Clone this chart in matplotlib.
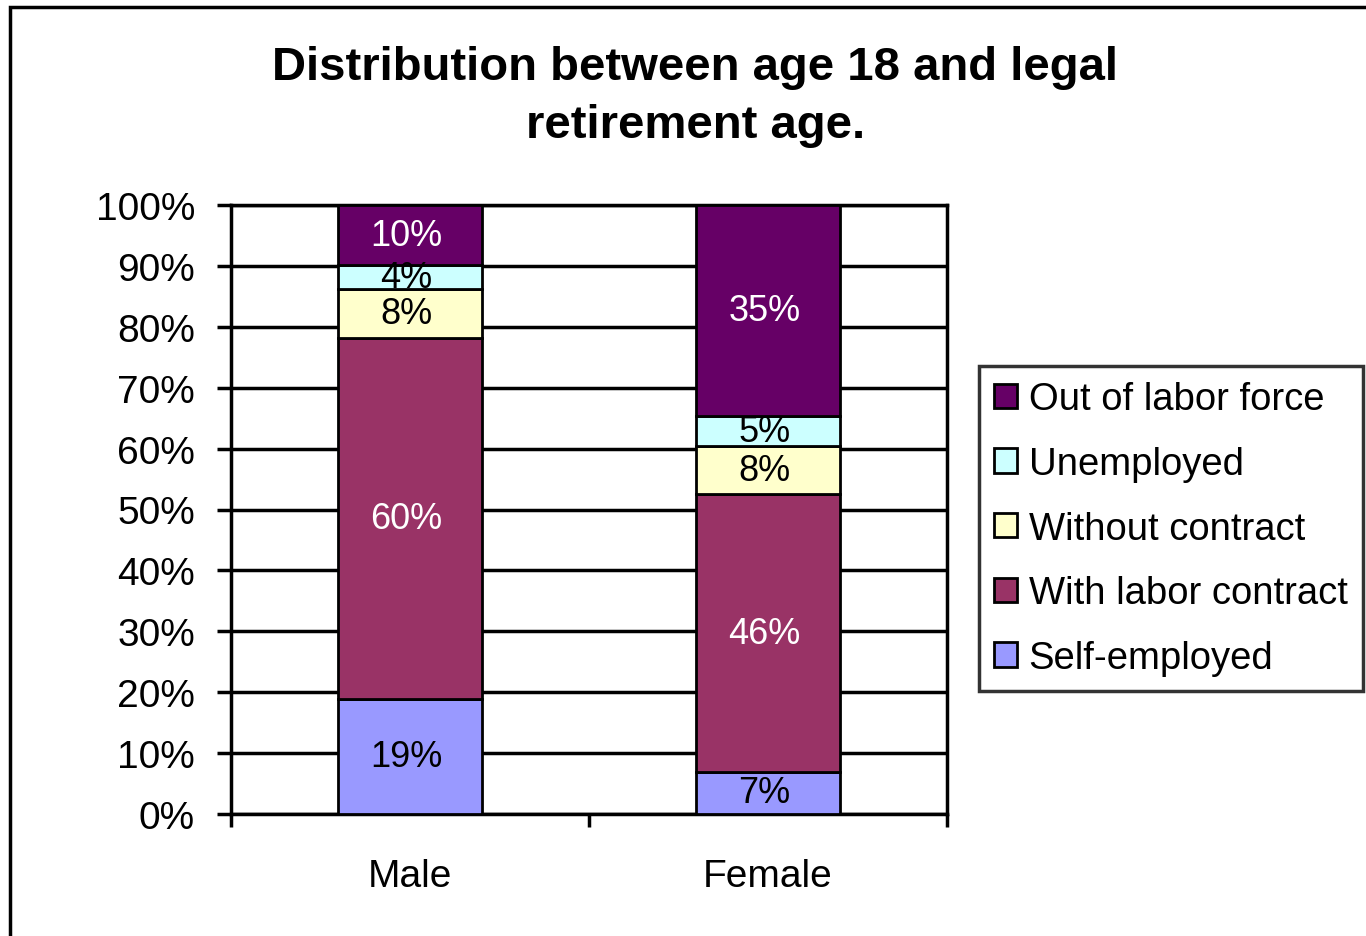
import matplotlib
matplotlib.use("Agg")
import matplotlib.pyplot as plt
import numpy as np
from matplotlib.patches import Rectangle, Patch

plt.rcParams['font.family'] = ['Liberation Sans', 'DejaVu Sans']

categories = ["Male", "Female"]
series_names = ["Self-employed", "With labor contract", "Without contract",
                "Unemployed", "Out of labor force"]
self_employed = [19, 7]
with_contract = [60, 46]
without_contract = [8, 8]
unemployed = [4, 5]
out_of_labor = [10, 35]
colors = ["#9999FF", "#993366", "#FFFFCC", "#CCFFFF", "#660066"]
label_colors = ["black", "white", "black", "black", "white"]
yticklabels = ["0%", "10%", "20%", "30%", "40%", "50%", "60%", "70%", "80%", "90%", "100%"]

series = [self_employed, with_contract, without_contract, unemployed, out_of_labor]
data = np.array(series, dtype=float)
totals = data.sum(axis=0)
pct = data / totals * 100

fig = plt.figure(figsize=(13.66, 9.37), dpi=100)
ax = fig.add_axes([231/1366, 1-815/937, (947-231)/1366, (815-206)/937])

x = np.array([0.5, 1.5])
bottom = np.zeros(2)
handles = []
for i, name in enumerate(series_names):
    bars = ax.bar(x, pct[i], width=0.4, bottom=bottom, color=colors[i],
                  edgecolor="black", linewidth=2, zorder=3)
    for j, b in enumerate(bars):
        ax.text(x[j] - 0.01, bottom[j] + pct[i][j] / 2, f"{int(data[i][j])}%",
                ha="center", va="center", fontsize=26, color=label_colors[i], zorder=4)
    bottom += pct[i]
    handles.append(Patch(facecolor=colors[i], edgecolor="black", linewidth=2, label=name))

ax.set_xlim(0, 2)
ax.set_ylim(0, 100)
ax.set_yticks(np.arange(0, 101, 10))
ax.set_yticklabels(yticklabels, fontsize=28)
ax.set_xticks([0, 1, 2])
ax.set_xticklabels([])
ax.set_xticks(x, minor=True)
ax.set_xticklabels(categories, minor=True, fontsize=28)
ax.tick_params(axis="x", which="minor", length=0, pad=32)
ax.tick_params(axis="x", which="major", length=9, width=2.5, direction="out")
ax.tick_params(axis="y", length=10, width=2.5, pad=16)
ax.yaxis.grid(True, color="black", linewidth=2.5, zorder=0)
ax.set_axisbelow(True)
for s in ax.spines.values():
    s.set_linewidth(2.5)
    s.set_color("black")

fig.text(0.509, 1-68/937, "Distribution between age 18 and legal", ha="center", va="center",
         fontsize=34, fontweight="bold")
fig.text(0.509, 1-126/937, "retirement age.", ha="center", va="center",
         fontsize=34, fontweight="bold")

leg = fig.legend(handles=handles[::-1], loc="upper left",
                 bbox_to_anchor=(979/1366, 1-367/937), fontsize=27.5,
                 frameon=True, fancybox=False, edgecolor="black",
                 handlelength=0.6, handleheight=0.6, handletextpad=0.3,
                 labelspacing=0.75, borderpad=0.4, borderaxespad=0)
leg.get_frame().set_linewidth(2.5)

fig.patches.append(Rectangle((10/1366, -0.1), 1.2, 1 - 8/937 + 0.1, transform=fig.transFigure,
                             fill=False, edgecolor="black", linewidth=2.5))

fig.savefig("out.png", dpi=100)
